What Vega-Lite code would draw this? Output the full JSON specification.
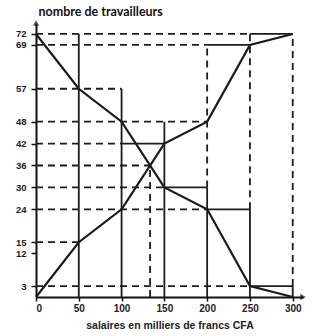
{
  "$schema": "https://vega.github.io/schema/vega-lite/v6.json",
  "autosize": "none",
  "width": 267,
  "height": 274,
  "padding": {"left": 36, "top": 23, "right": 14, "bottom": 39},
  "background": "white",
  "config": {"view": {"stroke": null}, "axis": {"labelOverlap": false}},
  "datasets": {
    "courbes": [
      {"courbe": "croissant", "salaire": 0, "travailleurs": 0},
      {"courbe": "croissant", "salaire": 50, "travailleurs": 15},
      {"courbe": "croissant", "salaire": 100, "travailleurs": 24},
      {"courbe": "croissant", "salaire": 150, "travailleurs": 42},
      {"courbe": "croissant", "salaire": 200, "travailleurs": 48},
      {"courbe": "croissant", "salaire": 250, "travailleurs": 69},
      {"courbe": "croissant", "salaire": 300, "travailleurs": 72},
      {"courbe": "decroissant", "salaire": 0, "travailleurs": 72},
      {"courbe": "decroissant", "salaire": 50, "travailleurs": 57},
      {"courbe": "decroissant", "salaire": 100, "travailleurs": 48},
      {"courbe": "decroissant", "salaire": 150, "travailleurs": 30},
      {"courbe": "decroissant", "salaire": 200, "travailleurs": 24},
      {"courbe": "decroissant", "salaire": 250, "travailleurs": 3},
      {"courbe": "decroissant", "salaire": 300, "travailleurs": 0}
    ],
    "reperes": [
      {"x": 0, "x2": 250, "y": 72, "y2": 72, "trait": "tirets"},
      {"x": 250, "x2": 300, "y": 72, "y2": 72, "trait": "plein"},
      {"x": 0, "x2": 200, "y": 69, "y2": 69, "trait": "tirets"},
      {"x": 200, "x2": 250, "y": 69, "y2": 69, "trait": "plein"},
      {"x": 0, "x2": 100, "y": 57, "y2": 57, "trait": "tirets"},
      {"x": 0, "x2": 200, "y": 48, "y2": 48, "trait": "tirets"},
      {"x": 0, "x2": 100, "y": 42, "y2": 42, "trait": "tirets"},
      {"x": 100, "x2": 150, "y": 42, "y2": 42, "trait": "plein"},
      {"x": 0, "x2": 133.3, "y": 36, "y2": 36, "trait": "tirets"},
      {"x": 0, "x2": 150, "y": 30, "y2": 30, "trait": "tirets"},
      {"x": 150, "x2": 200, "y": 30, "y2": 30, "trait": "plein"},
      {"x": 0, "x2": 200, "y": 24, "y2": 24, "trait": "tirets"},
      {"x": 200, "x2": 250, "y": 24, "y2": 24, "trait": "plein"},
      {"x": 0, "x2": 50, "y": 15, "y2": 15, "trait": "tirets"},
      {"x": 0, "x2": 250, "y": 3, "y2": 3, "trait": "tirets"},
      {"x": 250, "x2": 300, "y": 3, "y2": 3, "trait": "plein"},
      {"x": 50, "x2": 50, "y": 0, "y2": 72, "trait": "plein"},
      {"x": 100, "x2": 100, "y": 0, "y2": 57, "trait": "plein"},
      {"x": 133.3, "x2": 133.3, "y": 0, "y2": 36, "trait": "tirets"},
      {"x": 150, "x2": 150, "y": 0, "y2": 48, "trait": "plein"},
      {"x": 200, "x2": 200, "y": 30, "y2": 69, "trait": "tirets"},
      {"x": 200, "x2": 200, "y": 0, "y2": 30, "trait": "plein"},
      {"x": 250, "x2": 250, "y": 24, "y2": 72, "trait": "tirets"},
      {"x": 250, "x2": 250, "y": 0, "y2": 24, "trait": "plein"},
      {"x": 300, "x2": 300, "y": 3, "y2": 72, "trait": "tirets"},
      {"x": 300, "x2": 300, "y": 0, "y2": 3, "trait": "plein"}
    ],
    "fleche_x": [{"x": 312, "y": 0}],
    "fleche_y": [{"x": 0, "y": 75}]
  },
  "layer": [
    {
      "data": {"name": "reperes"},
      "mark": {"type": "rule", "strokeWidth": 1.8, "color": "#1c1c1c"},
      "encoding": {
        "x": {
          "field": "x", "type": "quantitative",
          "scale": {"domain": [0, 312], "nice": false, "zero": false},
          "axis": {
            "values": [0, 50, 100, 150, 200, 250, 300],
            "tickCount": 20,
            "grid": false, "labelOverlap": false,
            "domainColor": "#111", "domainWidth": 2,
            "tickColor": "#111", "tickWidth": 1.5, "tickSize": 4,
            "labelFont": "Liberation Sans", "labelFontWeight": "bold",
            "labelFontSize": 10, "labelColor": "#222", "labelPadding": 2,
            "title": "salaires en milliers de francs CFA",
            "titleFont": "Liberation Sans", "titleFontWeight": "bold",
            "titleFontSize": 10.5, "titleColor": "#222",
            "titleBaseline": "alphabetic", "titleY": 31
          }
        },
        "x2": {"field": "x2"},
        "y": {
          "field": "y", "type": "quantitative",
          "scale": {"domain": [0, 75], "nice": false},
          "axis": {
            "values": [3, 12, 15, 24, 30, 36, 42, 48, 57, 69, 72],
            "tickCount": 30,
            "grid": false, "labelOverlap": false,
            "domainColor": "#111", "domainWidth": 2,
            "tickColor": "#111", "tickWidth": 1.5, "tickSize": 5,
            "labelFont": "Liberation Sans", "labelFontWeight": "bold",
            "labelFontSize": 9.5, "labelColor": "#222", "labelPadding": 5,
            "title": "nombre de travailleurs",
            "titleFont": "Lato", "titleFontWeight": "bold", "titleFontSize": 12.5,
            "titleColor": "#111",
            "titleAngle": 0, "titleAlign": "left", "titleBaseline": "alphabetic",
            "titleX": 2, "titleY": -8
          }
        },
        "y2": {"field": "y2"},
        "strokeDash": {
          "field": "trait", "type": "nominal",
          "scale": {"domain": ["plein", "tirets"], "range": [[1, 0], [7, 5]]},
          "legend": null
        }
      }
    },
    {
      "data": {"name": "courbes"},
      "mark": {"type": "line", "strokeWidth": 2.2, "color": "#1a1a1a"},
      "encoding": {
        "x": {"field": "salaire", "type": "quantitative"},
        "y": {"field": "travailleurs", "type": "quantitative"},
        "detail": {"field": "courbe", "type": "nominal"}
      }
    },
    {
      "data": {"name": "fleche_x"},
      "mark": {"type": "point", "shape": "triangle-right", "filled": true, "size": 40, "color": "#111"},
      "encoding": {
        "x": {"field": "x", "type": "quantitative"},
        "y": {"field": "y", "type": "quantitative"}
      }
    },
    {
      "data": {"name": "fleche_y"},
      "mark": {"type": "point", "shape": "triangle-up", "filled": true, "size": 40, "color": "#111"},
      "encoding": {
        "x": {"field": "x", "type": "quantitative"},
        "y": {"field": "y", "type": "quantitative"}
      }
    }
  ]
}
